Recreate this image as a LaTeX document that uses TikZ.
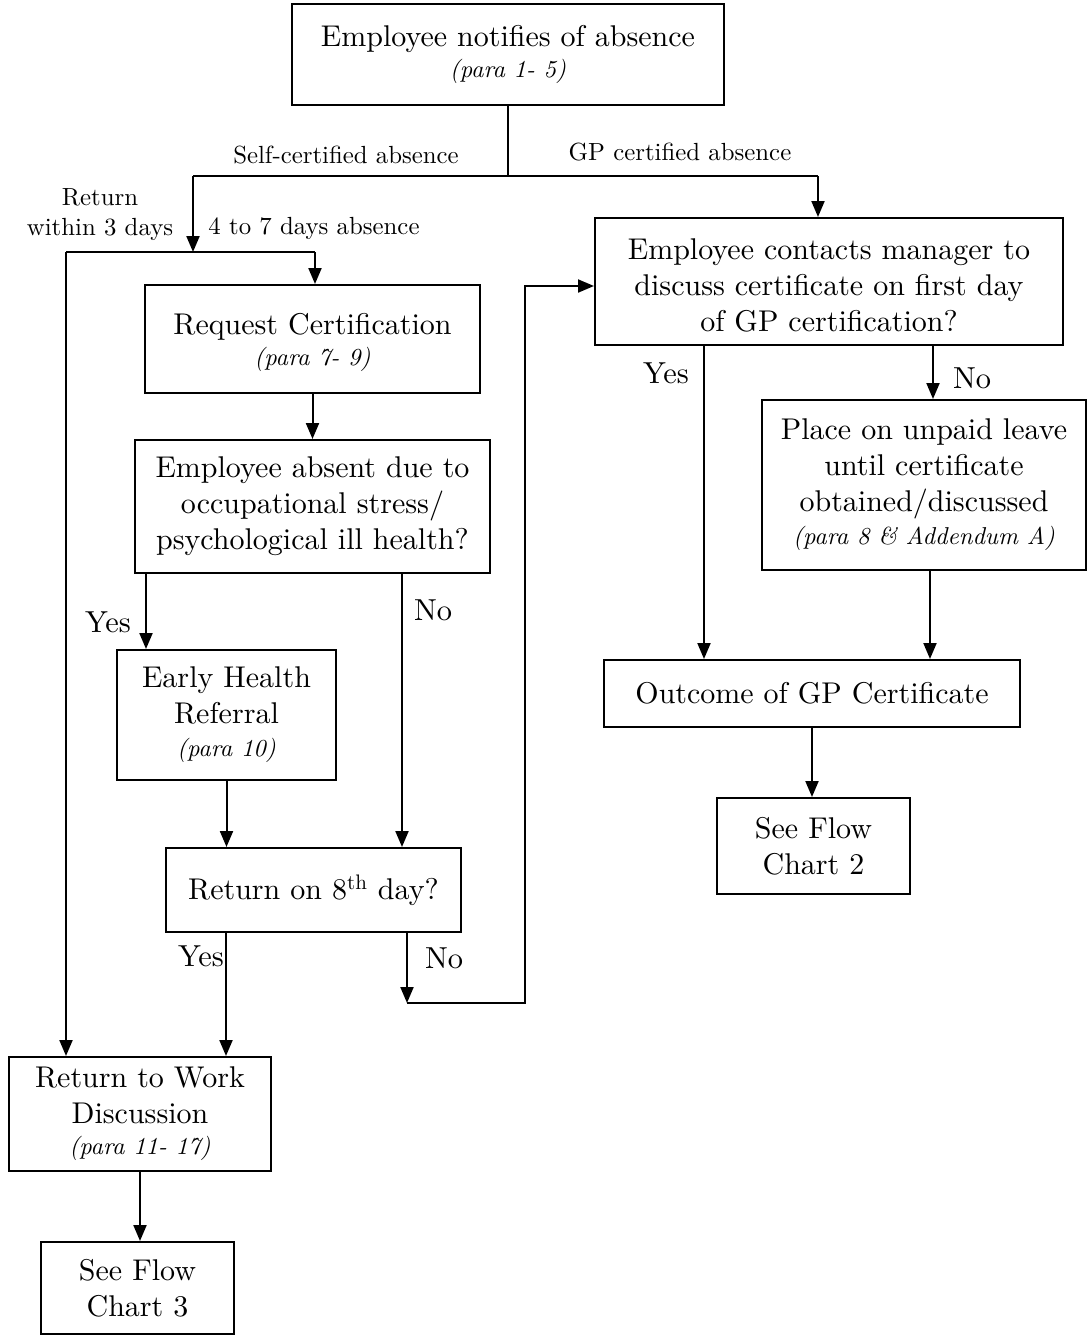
\documentclass[tikz,border=0pt]{standalone}
\usepackage{fontspec}
\setmainfont{lmroman10-regular.otf}[ItalicFont=lmroman10-italic.otf,BoldFont=lmroman10-bold.otf]
\usepackage{tikz}
\usetikzlibrary{positioning,arrows.meta}

\begin{document}
\begin{tikzpicture}[x=0.5pt,y=-0.5pt, every node/.style={font=\fontsize{15}{18}\selectfont}]
\tikzstyle{box}=[draw,line width=1pt,inner sep=0pt,align=center]
\tikzstyle{lbl}=[font=\fontsize{12.4}{15}\selectfont,align=center,inner sep=0pt]
\tikzstyle{yn}=[font=\fontsize{15.2}{17}\selectfont,inner sep=0pt]
\tikzstyle{arr}=[-{Triangle[length=8pt,width=6.5pt]},line width=1pt]
\newcommand{\paratext}[1]{{\fontsize{12.2}{14}\selectfont\itshape #1}}
\useasboundingbox (0,0) rectangle (1088,1335);
% boxes
\node[box,minimum width=216pt,minimum height=50.5pt] (notify) at (508,54.5) {Employee notifies of absence\\[-2.5pt]\paratext{(para 1- 5)}};
\node[box,minimum width=234pt,minimum height=63.5pt] (gp) at (829,281.5) {\rule{0pt}{14.5pt}Employee contacts manager to\\discuss certificate on first day\\of GP certification?};
\node[box,minimum width=167.5pt,minimum height=54pt] (request) at (312.5,339) {\rule{0pt}{14pt}Request Certification\\[-2.5pt]\paratext{(para 7- 9)}};
\node[box,minimum width=177.5pt,minimum height=66.5pt] (absent) at (312.5,506.5) {Employee absent due to\\occupational stress/\\psychological ill health?};
\node[box,minimum width=109.5pt,minimum height=65pt] (early) at (226.5,715) {Early Health\\Referral\\[-1.5pt]\paratext{(para 10)}};
\node[box,minimum width=147.5pt,minimum height=42pt] (eighth) at (313.5,890) {Return on 8\textsuperscript{th} day?};
\node[box,minimum width=131pt,minimum height=57pt] (rtw) at (140,1114) {Return to Work\\Discussion\\[-2.5pt]\paratext{(para 11- 17)}};
\node[box,minimum width=96.5pt,minimum height=46pt] (chart3) at (137.5,1288) {See Flow\\Chart 3};
\node[box,minimum width=162pt,minimum height=85pt] (unpaid) at (924,485) {Place on unpaid leave\\until certificate\\obtained/discussed\\[-1.5pt]\paratext{(para 8 \& Addendum A)}};
\node[box,minimum width=208pt,minimum height=33.5pt] (outcome) at (812,693.5) {Outcome of GP Certificate};
\node[box,minimum width=96.5pt,minimum height=48pt] (chart2) at (813.5,846) {See Flow\\Chart 2};
% junctions
\coordinate (fork) at (508,176);
\coordinate (forkL) at (193,176);
\coordinate (forkR) at (818,176);
\coordinate (ret3) at (66,252);
\coordinate (long47) at (315,252);
\coordinate (loopR) at (525,1003);
% connectors
\draw[line width=1pt] (notify.south) -- (fork);
\draw[line width=1pt] (forkL) -- (forkR);
\draw[arr] (forkR) -- (gp.north -| forkR);
\draw[arr] (forkL) -- (forkL |- ret3);
\draw[line width=1pt] (ret3) -- (long47);
\draw[arr] (long47) -- (request.north -| long47);
\draw[arr] (ret3) -- (rtw.north -| ret3);
\draw[arr] (request) -- (absent);
\draw[arr] ([xshift=6pt]absent.south west) coordinate (yesA) -- (yesA |- early.north);
\draw[arr] ([xshift=-44.5pt]absent.south east) coordinate (noA) -- (noA |- eighth.north);
\draw[arr] (early.south) -- (early.south |- eighth.north);
\draw[arr] ([xshift=30.5pt]eighth.south west) coordinate (yesB) -- (yesB |- rtw.north);
\draw[arr] ([xshift=-27.5pt]eighth.south east) coordinate (noB) -- (noB |- loopR);
\draw[arr] (noB |- loopR) -- (loopR) -- ([yshift=-2.25pt]loopR |- gp.west) -- ([yshift=-2.25pt]gp.west);
\draw[arr] (rtw.south) -- (rtw.south |- chart3.north);
\draw[arr] ([xshift=55pt]gp.south west) coordinate (yesC) -- (yesC |- outcome.north);
\draw[arr] ([xshift=-65.5pt]gp.south east) coordinate (noC) -- (noC |- unpaid.north);
\draw[arr] ([xshift=3pt]unpaid.south) coordinate (fromU) -- (fromU |- outcome.north);
\draw[arr] (outcome.south) -- (outcome.south |- chart2.north);
% labels
\node[lbl] (lblSelf) at (346,155) {Self-certified absence};
\node[lbl] (lblGP) at (680,152) {GP certified absence};
\node[lbl] (lblRet) at (100,215) {Return\\within 3 days};
\node[lbl] (lbl47) at (314,228) {4 to 7 days absence};
\node[yn] (lblYesA) at (108,622) {Yes};
\node[yn] (lblNoA) at (433,610) {No};
\node[yn] (lblYesB) at (201,956) {Yes};
\node[yn] (lblNoB) at (444,958) {No};
\node[yn] (lblYesC) at (666,373) {Yes};
\node[yn] (lblNoC) at (972,378) {No};
\end{tikzpicture}
\end{document}
